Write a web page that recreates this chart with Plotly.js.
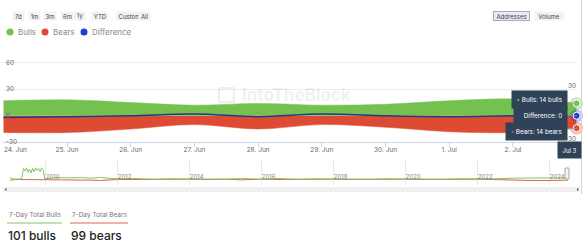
<!DOCTYPE html>
<html>
<head>
<meta charset="utf-8">
<script src="https://cdn.plot.ly/plotly-3.0.1.min.js"></script>
<style>
html,body{margin:0;padding:0;background:#fff;}
#chart{width:584px;height:252px;}
</style>
</head>
<body>
<div id="chart"></div>
<script>
// ---- data ----
var dates = ['2024-06-24','2024-06-25','2024-06-26','2024-06-27','2024-06-28','2024-06-29','2024-06-30','2024-07-01','2024-07-02','2024-07-03'];
var bulls = [17, 18, 15, 12, 14, 12, 13, 17, 19, 14];
var bears = [19, 19, 15, 10, 15, 10, 13, 18, 19, 14];
var difference = [-2, -1, 0, 2, -1, 2, 0, -1, 0, 0];
var bearsNeg = [-19, -19, -15, -10, -15, -10, -13, -18, -19, -14];

var navDates = ['2009-01-03','2009-02-01','2009-03-01','2009-04-01','2009-05-01','2009-05-20','2009-06-05','2009-06-20','2009-07-05','2009-07-20','2009-08-05','2009-08-20','2009-09-05','2009-09-20','2009-10-05','2009-10-20','2009-11-05','2009-11-20','2009-12-05','2009-12-20','2010-03-01','2010-06-01','2010-09-01','2011-01-01','2011-04-01','2011-07-01','2011-10-01','2012-01-01','2012-06-01','2013-01-01','2013-06-01','2014-01-01','2014-06-01','2015-01-01','2015-06-01','2016-01-01','2016-06-01','2017-01-01','2017-06-01','2018-01-01','2018-06-01','2019-01-01','2019-06-01','2020-01-01','2020-06-01','2021-01-01','2021-06-01','2022-01-01','2022-06-01','2023-01-01','2023-06-01','2024-01-01','2024-07-03'];
var navBulls = [13, 11, 10.5, 10.5, 11, 27, 23, 28, 21, 26, 20, 27, 22, 28, 24, 27, 22, 28, 25, 11, 12.5, 13, 12.5, 13, 12, 13, 11.5, 11, 11.5, 10.5, 11, 10.5, 11, 10.5, 11.5, 10.5, 11.5, 10.5, 11, 10.5, 11, 10.5, 11, 10.5, 11, 10.5, 11, 10.5, 11, 12, 12.5, 12.5, 12];
var navBears = [9, 10, 10, 10, 10, 10, 10, 10, 10, 10, 10, 10, 10, 10, 10, 10, 10, 10, 10, 10, 9.5, 9, 9.5, 9, 9, 8.5, 9.5, 10, 10, 10.5, 10, 10.5, 10, 10.5, 9.5, 10.5, 10, 10.5, 10, 10.5, 10, 10.5, 10, 10.5, 10, 10.5, 10, 10.5, 10, 9, 8.5, 8.5, 9];
var navYears = ['2010-01-01','2012-01-01','2014-01-01','2016-01-01','2018-01-01','2020-01-01','2022-01-01','2024-01-01'];
var yTicks = [-30, 0, 30, 60];
var yTicksRight = [30, -30];
var rangeButtons = ['7d','1m','3m','6m','1y','YTD','Custom','All'];
var legendNames = ['Bulls','Bears','Difference'];

// ---- style ----
var W = 584, H = 252;
var GREEN = '#74c150', RED = '#de4b33', BLUE = '#1b3fd0', DIFF = '#2b3489';
var TIP = '#2f4257';
var FONT = 'Inter, "Open Sans", sans-serif';
function px(x){return x/W;}
function py(y){return 1 - y/H;}

var last = dates.length - 1;
var sum7 = function(a){var s=0;for(var i=a.length-7;i<a.length;i++)s+=a[i];return s;};

var traces = [
  {x: dates, y: bearsNeg, type:'scatter', mode:'lines', line:{shape:'spline', color:RED, width:0.5, smoothing:1}, fill:'tozeroy', fillcolor:RED, xaxis:'x', yaxis:'y', hoverinfo:'skip'},
  {x: dates, y: bulls, type:'scatter', mode:'lines', line:{shape:'spline', color:GREEN, width:0.5, smoothing:1}, fill:'tozeroy', fillcolor:GREEN, xaxis:'x', yaxis:'y', hoverinfo:'skip'},
  {x: dates, y: difference, type:'scatter', mode:'lines', line:{shape:'spline', color:DIFF, width:1.5, smoothing:1}, xaxis:'x', yaxis:'y', hoverinfo:'skip'},
  {x: [dates[last], dates[last], dates[last]], y: [bulls[last], difference[last], bearsNeg[last]], type:'scatter', mode:'markers',
   marker:{size:13, color:['rgba(116,193,80,0.35)','rgba(27,63,208,0.3)','rgba(222,75,51,0.35)']}, xaxis:'x', yaxis:'y', hoverinfo:'skip', cliponaxis:false},
  {x: [dates[last], dates[last], dates[last]], y: [bulls[last], difference[last], bearsNeg[last]], type:'scatter', mode:'markers',
   marker:{size:7, color:[GREEN, BLUE, RED], line:{color:'#fff', width:1}}, xaxis:'x', yaxis:'y', hoverinfo:'skip', cliponaxis:false},
  {x: [dates[0]], y: [0], type:'scatter', mode:'markers', marker:{opacity:0}, xaxis:'x', yaxis:'y3', hoverinfo:'skip', showlegend:false},
  {x: navDates, y: navBears, type:'scatter', mode:'lines', line:{color:'#d8664c', width:1}, xaxis:'x2', yaxis:'y2', hoverinfo:'skip'},
  {x: navDates, y: navBulls, type:'scatter', mode:'lines', line:{color:'#84c563', width:1}, xaxis:'x2', yaxis:'y2', hoverinfo:'skip'}
];

var annotations = [];
var shapes = [];

// range selector buttons
var btnPos = [[11.5,11],[27.5,11],[43,12],[59.5,13],[74,10],[91,16],[115.5,25],[137.5,11]];
rangeButtons.forEach(function(b,i){
  annotations.push({xref:'paper', yref:'paper', x:px(btnPos[i][0]), y:py(11), text:b, showarrow:false,
    width:btnPos[i][1], height:8, bgcolor:'#f3f3f3', borderpad:0, font:{family:FONT, size:6, color:'#444'}});
});
annotations.push({xref:'paper', yref:'paper', x:px(530), y:py(11), text:'Addresses', showarrow:false,
  width:35, height:8, bgcolor:'#e7ebf4', bordercolor:'#a3abbd', borderwidth:1, borderpad:0, font:{family:FONT, size:6, color:'#444'}});
annotations.push({xref:'paper', yref:'paper', x:px(564), y:py(11), text:'Volume', showarrow:false,
  width:28, height:8, bgcolor:'#f3f3f3', borderpad:0, font:{family:FONT, size:6, color:'#444'}});

// legend
var legCol = [GREEN, RED, BLUE];
var legDot = [10, 45, 84];
legendNames.forEach(function(n,i){
  shapes.push({type:'circle', xref:'paper', yref:'paper', x0:px(legDot[i]-3.5), x1:px(legDot[i]+3.5), y0:py(32+3.5), y1:py(32-3.5), fillcolor:legCol[i], line:{width:0}});
  annotations.push({xref:'paper', yref:'paper', x:px(legDot[i]+6), y:py(32), xanchor:'left', yanchor:'middle', text:n, showarrow:false,
    font:{family:FONT, size:8, color:'#8a8a8a'}});
});

// y tick labels (inside plot, left & right)
yTicks.forEach(function(v){
  annotations.push({xref:'paper', yref:'y', x:px(4), y:v, xanchor:'left', yanchor:'middle', text:String(v), showarrow:false,
    font:{family:FONT, size:6.5, color:'#666'}});
});
yTicksRight.forEach(function(v){
  annotations.push({xref:'paper', yref:'y3', x:px(578), y:v, xanchor:'right', yanchor:'middle', text:String(v), showarrow:false,
    font:{family:FONT, size:6.5, color:'#666'}});
});

// watermark
annotations.push({xref:'paper', yref:'paper', x:px(240), y:py(95), xanchor:'left', yanchor:'middle', text:'<b>IntoTheBlock</b>', showarrow:false,
  font:{family:FONT, size:17, color:'rgba(170,170,170,0.18)'}});
shapes.push({type:'rect', xref:'paper', yref:'paper', x0:px(219), x1:px(234), y0:py(102), y1:py(88), line:{color:'rgba(170,170,170,0.25)', width:1.5}, fillcolor:'rgba(0,0,0,0)'});

// first x label (left aligned like Highcharts)
annotations.push({xref:'x', yref:'paper', x:dates[0], y:py(150), xanchor:'left', yanchor:'middle', xshift:-1, text:'24. Jun', showarrow:false,
  font:{family:FONT, size:6.5, color:'#666'}});

// tooltips
annotations.push({xref:'x', yref:'y', x:dates[last], y:bulls[last], ax:-37, ay:-4, showarrow:true, arrowhead:0, arrowwidth:1, arrowcolor:'#9aa3ad',
  text:'<span style="color:'+GREEN+'">•</span> Bulls: '+bulls[last]+' bulls', bgcolor:TIP, borderpad:4.5, font:{family:FONT, size:6.3, color:'#fff'}});
annotations.push({xref:'x', yref:'y', x:dates[last], y:difference[last], ax:-36, ay:0, showarrow:true, arrowhead:0, arrowwidth:1, arrowcolor:'#9aa3ad',
  text:'<span style="color:'+BLUE+'">•</span> Difference: '+difference[last], bgcolor:TIP, borderpad:4.5, font:{family:FONT, size:6.3, color:'#fff'}});
annotations.push({xref:'x', yref:'y', x:dates[last], y:bearsNeg[last], ax:-40, ay:3.5, showarrow:true, arrowhead:0, arrowwidth:1, arrowcolor:'#9aa3ad',
  text:'<span style="color:'+RED+'">•</span> Bears: '+bears[last]+' bears', bgcolor:TIP, borderpad:4.5, font:{family:FONT, size:6.3, color:'#fff'}});
annotations.push({xref:'x', yref:'paper', x:dates[last], y:py(150), xshift:-7, text:'Jul 3', showarrow:false,
  bgcolor:TIP, borderpad:4.5, font:{family:FONT, size:6, color:'#fff'}});

// totals section
annotations.push({xref:'paper', yref:'paper', x:px(7), y:py(215), xanchor:'left', yanchor:'middle', text:'7-Day Total Bulls', showarrow:false,
  font:{family:FONT, size:6.5, color:'#777'}});
annotations.push({xref:'paper', yref:'paper', x:px(70), y:py(215), xanchor:'left', yanchor:'middle', text:'7-Day Total Bears', showarrow:false,
  font:{family:FONT, size:6.5, color:'#777'}});
shapes.push({type:'line', xref:'paper', yref:'paper', x0:px(7), x1:px(62), y0:py(223), y1:py(223), line:{color:'#8cc06e', width:1.2}});
shapes.push({type:'line', xref:'paper', yref:'paper', x0:px(70), x1:px(128), y0:py(223), y1:py(223), line:{color:'#d9694f', width:1.2}});
annotations.push({xref:'paper', yref:'paper', x:px(6), y:py(235), xanchor:'left', yanchor:'middle', text:sum7(bulls)+' bulls', showarrow:false,
  font:{family:FONT, size:12, color:'#222', weight:500}});
annotations.push({xref:'paper', yref:'paper', x:px(69), y:py(235), xanchor:'left', yanchor:'middle', text:sum7(bears)+' bears', showarrow:false,
  font:{family:FONT, size:12, color:'#222', weight:500}});

// scrollbar under navigator
shapes.push({type:'rect', xref:'paper', yref:'paper', x0:px(3), x1:px(580), y0:py(192), y1:py(187), fillcolor:'#f0f0f0', line:{width:0}});
shapes.push({type:'path', xref:'paper', yref:'paper', path:'M '+px(4.5)+' '+py(189.5)+' L '+px(6.5)+' '+py(188)+' L '+px(6.5)+' '+py(191)+' Z', fillcolor:'#555', line:{width:0}});
shapes.push({type:'path', xref:'paper', yref:'paper', path:'M '+px(579)+' '+py(189.5)+' L '+px(577)+' '+py(188)+' L '+px(577)+' '+py(191)+' Z', fillcolor:'#555', line:{width:0}});
// navigator handle
shapes.push({type:'rect', xref:'paper', yref:'paper', x0:px(565), x1:px(569), y0:py(179), y1:py(168), fillcolor:'#f2f2f2', line:{color:'#999', width:0.8}});
// right edge line
shapes.push({type:'line', xref:'paper', yref:'paper', x0:px(581.5), x1:px(581.5), y0:py(0), y1:py(194), line:{color:'#d5d5d5', width:1}});

var layout = {
  width: W, height: H,
  margin: {l:0, r:0, t:0, b:0},
  paper_bgcolor:'#fff', plot_bgcolor:'rgba(0,0,0,0)',
  showlegend:false, hovermode:false,
  font:{family:FONT, color:'#666'},
  xaxis: {domain:[px(3.3), px(576.6)], anchor:'free', position:py(142.3), type:'date', range:[dates[0], dates[last]],
    tickvals: dates.slice(1, last), tickformat:'%-d. %b', tickfont:{family:FONT, size:6.5, color:'#666'}, ticklabelstandoff:-3,
    showgrid:false, showline:true, linecolor:'#ccd6eb', linewidth:1, ticks:'outside', ticklen:4, tickcolor:'#ccd6eb', zeroline:false, fixedrange:true},
  yaxis: {domain:[py(146.7), py(58.3)], anchor:'x', range:[-35, 65], tickvals:[-30, 30, 60],
    showticklabels:false, showgrid:true, gridcolor:'#ececec', gridwidth:1,
    zeroline:false, showline:false, ticks:'', fixedrange:true},
  yaxis3: {overlaying:'y', side:'right', anchor:'x', range:[-39.46, 62.5], showticklabels:false, showgrid:false, zeroline:false, showline:false, ticks:''},
  xaxis2: {domain:[px(10), px(568)], anchor:'y2', type:'date', range:['2009-01-03','2024-07-03'],
    tickvals: navYears, tickformat:'%Y', ticklabelposition:'inside right', tickfont:{family:FONT, size:6, color:'#888'},
    showgrid:true, gridcolor:'#e8e8e8', gridwidth:1, showline:false, ticks:'', zeroline:false},
  yaxis2: {domain:[py(186), py(160)], anchor:'x2', range:[0, 40], showgrid:false, showticklabels:false, zeroline:false, showline:false, ticks:''},
  annotations: annotations,
  shapes: shapes
};

Plotly.newPlot('chart', traces, layout, {displayModeBar:false, staticPlot:true});
</script>
</body>
</html>
